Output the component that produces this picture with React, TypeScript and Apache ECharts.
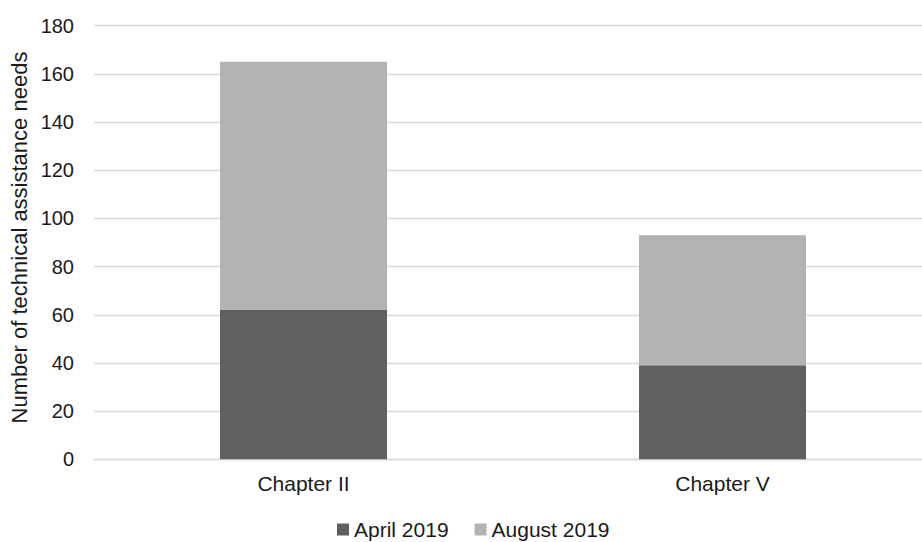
import React, { useEffect, useRef } from "react";
import * as echarts from "echarts";

// Chart data
const categories = ["Chapter II", "Chapter V"];
const april2019 = [62, 39];
const august2019 = [103, 54];
const seriesNames = ["April 2019", "August 2019"];
const yTicks = { min: 0, max: 180, interval: 20 };
const axisTitle = "Number of technical assistance needs";

const FONT = "'Liberation Sans', Arial, Helvetica, sans-serif";
const TEXT = "#1a1a1a";
const GRID = "#d9d9d9";

export default function App() {
  const ref = useRef<HTMLDivElement>(null);

  useEffect(() => {
    if (!ref.current) return;
    const chart = echarts.init(ref.current, undefined, { renderer: "svg" });
    chart.setOption({
      animation: false,
      backgroundColor: "#ffffff",
      textStyle: { fontFamily: FONT },
      // plot area runs slightly past the right edge of the visible page
      grid: { left: 94, top: 25.7, width: 838, height: 433.6, containLabel: false },
      legend: {
        left: 337,
        top: 519,
        padding: 0,
        itemWidth: 12,
        itemHeight: 12,
        itemGap: 26,
        icon: "rect",
        data: seriesNames,
        textStyle: { fontFamily: FONT, fontSize: 21, color: TEXT, lineHeight: 21 },
      },
      xAxis: {
        type: "category",
        data: categories,
        axisLine: { lineStyle: { color: GRID, width: 1.3 } },
        axisTick: { show: false },
        axisLabel: { fontFamily: FONT, fontSize: 21, color: TEXT, margin: 14 },
      },
      yAxis: {
        type: "value",
        min: yTicks.min,
        max: yTicks.max,
        interval: yTicks.interval,
        axisLine: { show: false },
        axisTick: { show: false },
        axisLabel: { fontFamily: FONT, fontSize: 20, color: TEXT, margin: 20 },
        splitLine: { lineStyle: { color: GRID, width: 1.3 } },
      },
      graphic: [
        {
          type: "text",
          x: 19,
          y: 237.5,
          rotation: Math.PI / 2,
          style: {
            text: axisTitle,
            fontFamily: FONT,
            fontSize: 22,
            fill: TEXT,
            align: "center",
            verticalAlign: "middle",
          },
        },
      ],
      series: [
        {
          name: seriesNames[0],
          type: "bar",
          stack: "total",
          data: april2019,
          barWidth: 167,
          itemStyle: { color: "#606060" },
        },
        {
          name: seriesNames[1],
          type: "bar",
          stack: "total",
          data: august2019,
          barWidth: 167,
          itemStyle: { color: "#b3b3b3" },
        },
      ],
    });
    return () => chart.dispose();
  }, []);

  return (
    <div
      ref={ref}
      style={{ position: "fixed", left: 0, top: 0, width: 940, height: 542 }}
    />
  );
}
